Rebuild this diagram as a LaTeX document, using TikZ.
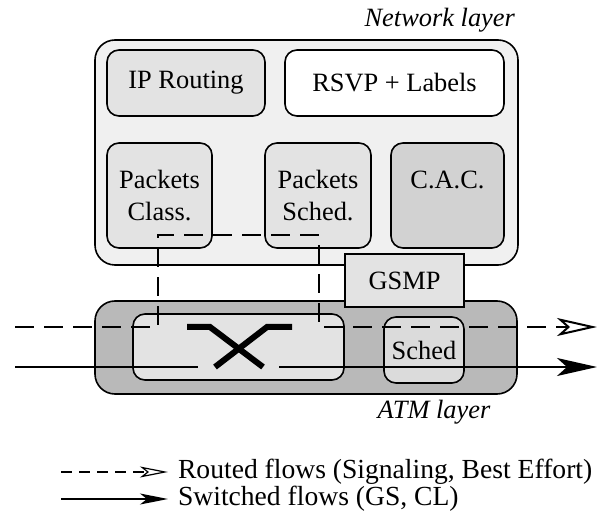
\documentclass[tikz,border=0pt]{standalone}
\usepackage{fontspec}
\setmainfont{Liberation Serif}
\usepackage{tikz}
\usetikzlibrary{arrows.meta}
\usepackage{xcolor}
\newcommand{\figfont}{\fontsize{13.2}{15.8}\selectfont}
\newcommand{\legfont}{\fontsize{13.8}{16}\selectfont}

\begin{document}
\begin{tikzpicture}[x=0.5pt,y=-0.5pt,font=\figfont]
\tikzstyle{layer} = [rectangle, draw, thick, rounded corners=10pt, inner sep=0pt]
\tikzstyle{block} = [rectangle, draw, thick, fill=gray!22, rounded corners=6pt,
inner sep=0pt, align=center]
\tikzstyle{block_op} = [rectangle, draw, thick, fill=gray!22, inner sep=0pt]
\tikzstyle{routed} = [draw, line width=1pt, dash pattern=on 9.5pt off 5pt]
\tikzstyle{switched} = [draw, line width=1pt]
\tikzstyle{crossbar} = [draw, line width=3pt]
\useasboundingbox (0,0) rectangle (598,517);

% network layer
\node [layer, fill=gray!12, minimum width=211.5pt, minimum height=112.5pt] (net) at (306.5,152.5) {};
\node [anchor=east, font=\figfont\itshape] (netlabel) at (522,20) {Network layer};
\node [block, minimum width=79pt, minimum height=33pt] (iprouting) at (186,83) {IP Routing};
\node [block, fill=white, minimum width=109.5pt, minimum height=33pt] (rsvp) at (394.5,83) {RSVP + Labels};
% row 2
\node [block, minimum width=52.5pt, minimum height=52.5pt] (pclass) at (159.5,195.5) {Packets\\Class.};
\node [block, minimum width=53pt, minimum height=52.5pt] (psched) at (318,195.5) {Packets\\Sched.};
\node [block, fill=gray!35, minimum width=56.5pt, minimum height=52.5pt] (cac) at (447.5,195.5) {C.A.C.\\\mbox{}};

% atm layer
\node [layer, fill=gray!55, minimum width=211pt, minimum height=46.5pt] (atm) at (306,347.5) {};
\node [font=\figfont\itshape] (atmlabel) at (434,412) {ATM layer};
\node [block, fill=gray!22, minimum width=105.5pt, minimum height=33pt] (switch) at (238.5,347) {};
\node [block, fill=gray!28, minimum width=40pt, minimum height=33pt] (sched) at (424,350) {Sched};
\node [block_op, minimum width=59.5pt, minimum height=26.5pt] (gsmp) at (404.5,280.5) {GSMP};

% flows
\coordinate (rin) at (15,327);
\coordinate (rdown) at (158,327);
\coordinate (rup) at (158,235);
\coordinate (rback) at (319,235);
\coordinate (rret) at (319,327);
\coordinate (rout) at (597,327);
\coordinate (sin) at (15,367);
\coordinate (sgap1) at (198,367);
\coordinate (sgap2) at (279,367);
\coordinate (sout) at (597,367);
\path [routed, -{Stealth[open, fill=white, length=20pt, width=9pt, inset=5pt]}]
  (rin) -- (rdown) -- (rup) -- (rback) -- (rret) -- (rout);
\path [switched] (sin) -- (sgap1);
\path [switched, -{Stealth[length=20pt, width=9pt, inset=5pt]}] (sgap2) -- (sout);

% switch fabric
\coordinate (xa) at (187,327);
\coordinate (xb) at (210,327);
\coordinate (xc) at (263,367);
\coordinate (xd) at (292,327);
\coordinate (xe) at (267,327);
\coordinate (xf) at (215,367);
\path [crossbar] (xa) -- (xb) -- (xc);
\path [crossbar] (xd) -- (xe) -- (xf);

% legend
\coordinate (lr1) at (61,472);
\coordinate (lr2) at (168,472);
\coordinate (ls1) at (61,499);
\coordinate (ls2) at (168,499);
\path [draw, line width=0.6pt, dash pattern=on 5.5pt off 3.5pt,
  -{Stealth[open, fill=white, length=14pt, width=5.5pt, inset=3.5pt]}] (lr1) -- (lr2);
\path [draw, line width=0.6pt, -{Stealth[length=14pt, width=5.5pt, inset=3.5pt]}] (ls1) -- (ls2);
\node [anchor=west, font=\legfont] (routedtext) at (171,472) {Routed flows (Signaling, Best Effort)};
\node [anchor=west, font=\legfont] (switchedtext) at (171,499) {Switched flows (GS, CL)};
\end{tikzpicture}
\end{document}
